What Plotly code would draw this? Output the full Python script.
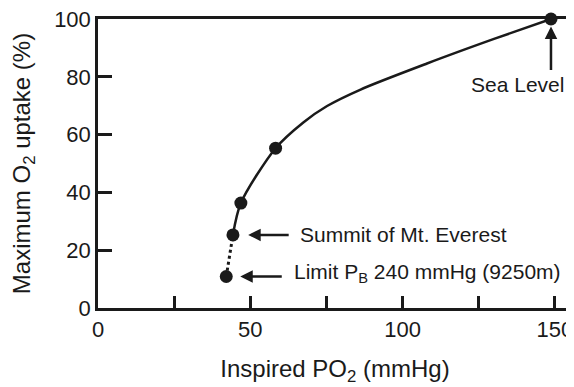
import plotly.graph_objects as go

# measured points (inspired PO2 in mmHg, max O2 uptake in %)
point_po2 = [42.1, 44.3, 46.9, 58.3, 148.7]
point_uptake = [10.9, 25.3, 36.3, 55.3, 100]

curve_po2 = [44.3, 46.9, 58.3, 67.5, 75.2, 86.2, 108, 130, 148.7]
curve_uptake = [25.3, 36.3, 55.3, 64.3, 69.9, 75.6, 84.6, 93.1, 100]

# dotted extrapolation from the limit to the summit
dotted_po2 = [42.1, 44.3]
dotted_uptake = [10.9, 25.3]

x_ticks = [0, 25, 50, 75, 100, 125, 150]
x_labels = ['0', '', '50', '', '100', '', '150']
y_ticks = [0, 20, 40, 60, 80, 100]

ink = '#1a1a1a'
font_name = 'Liberation Sans, Arial, sans-serif'

fig = go.Figure()

fig.add_trace(go.Scatter(
    x=curve_po2, y=curve_uptake,
    mode='lines', line=dict(color=ink, width=2.5, shape='spline', smoothing=0.8),
    hoverinfo='skip'
))

fig.add_trace(go.Scatter(
    x=dotted_po2, y=dotted_uptake,
    mode='lines', line=dict(color=ink, width=3, dash='dot'),
    hoverinfo='skip'
))

fig.add_trace(go.Scatter(
    x=point_po2, y=point_uptake,
    mode='markers', marker=dict(color=ink, size=13),
    cliponaxis=False
))

# arrows pointing at the labelled points
limit_x, limit_y = point_po2[0], point_uptake[0]
summit_x, summit_y = point_po2[1], point_uptake[1]
sea_x, sea_y = point_po2[-1], point_uptake[-1]

arrow = dict(showarrow=True, arrowhead=2, arrowsize=1, arrowwidth=2.5,
             arrowcolor=ink, text='', axref='pixel', ayref='pixel')
fig.add_annotation(x=summit_x + 5.0, y=summit_y, ax=42, ay=0, **arrow)
fig.add_annotation(x=limit_x + 4.6, y=limit_y, ax=43, ay=0, **arrow)
fig.add_annotation(x=sea_x, y=sea_y - 2.6, ax=0, ay=45, **arrow)

label = dict(showarrow=False, font=dict(size=21, color=ink, family=font_name))
fig.add_annotation(x=65.8, y=summit_y, xanchor='left', yanchor='middle',
                   text='Summit of Mt. Everest', **label)
fig.add_annotation(x=63.8, y=limit_y + 1.2, xanchor='left', yanchor='middle',
                   text='Limit P<sub>B</sub> 240 mmHg (9250m)', **label)
fig.add_annotation(x=153.6, y=77.3, xanchor='right', yanchor='middle',
                   text='Sea Level', **label)

axis_common = dict(showline=True, linecolor=ink, linewidth=2.5, mirror=True,
                   showgrid=False, zeroline=False, ticks='inside',
                   tickcolor=ink, tickwidth=2.5, automargin=False,
                   ticklabeloverflow='allow',
                   tickfont=dict(size=22, color=ink, family=font_name))

fig.update_xaxes(range=[0, 155.6], tickvals=x_ticks, ticktext=x_labels, ticklen=12,
                 title=dict(text='Inspired PO<sub>2</sub> (mmHg)', standoff=20,
                            font=dict(size=24, color=ink, family=font_name)),
                 **axis_common)
fig.update_yaxes(range=[0, 100], tickvals=y_ticks, ticklen=14,
                 title=dict(text='Maximum O<sub>2</sub> uptake (%)', standoff=32,
                            font=dict(size=24, color=ink, family=font_name)),
                 **axis_common)

# the page body has an 8px margin, so the figure is sized to fit inside the window
fig.update_layout(
    width=566, height=379,
    margin=dict(l=90, r=2, t=11, b=79),
    plot_bgcolor='white', paper_bgcolor='white',
    showlegend=False,
    font=dict(family=font_name, color=ink)
)

fig.write_html("out.html")
